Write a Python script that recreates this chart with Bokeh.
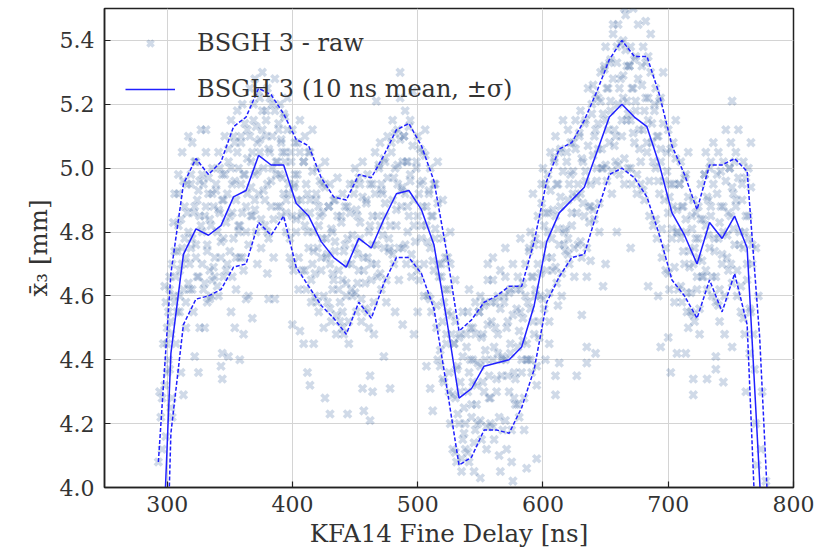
from bokeh.plotting import figure
from bokeh.models import FixedTicker, PrintfTickFormatter, Legend, LegendItem, ColumnDataSource
from bokeh.embed import file_html
from bokeh.resources import INLINE

# 10 ns bins: centre, mean and standard deviation of x3
bin_x = [293, 303, 313, 323, 333, 343, 353, 363, 373, 383,
         393, 403, 413, 423, 433, 443, 453, 463, 473, 483,
         493, 503, 513, 523, 533, 543, 553, 563, 573, 583,
         593, 603, 613, 623, 633, 643, 653, 663, 673, 683,
         693, 703, 713, 723, 733, 743, 753, 763, 773, 783]
bin_mean = [3.45, 4.42, 4.73, 4.81, 4.79, 4.82, 4.91, 4.93, 5.04, 5.01,
            5.01, 4.89, 4.85, 4.77, 4.72, 4.69, 4.78, 4.75, 4.84, 4.92,
            4.93, 4.87, 4.76, 4.53, 4.28, 4.31, 4.38, 4.39, 4.40, 4.44,
            4.57, 4.77, 4.86, 4.90, 4.94, 5.05, 5.16, 5.20, 5.16, 5.13,
            5.01, 4.86, 4.79, 4.70, 4.83, 4.78, 4.85, 4.75, 4.02, 3.30]
bin_std = [0.63, 0.25, 0.22, 0.22, 0.19, 0.20, 0.22, 0.23, 0.21, 0.22,
           0.16, 0.20, 0.22, 0.20, 0.19, 0.21, 0.20, 0.22, 0.20, 0.20,
           0.21, 0.20, 0.20, 0.21, 0.21, 0.215, 0.20, 0.21, 0.23, 0.19,
           0.20, 0.19, 0.20, 0.18, 0.21, 0.19, 0.18, 0.20, 0.19, 0.22,
           0.22, 0.21, 0.19, 0.17, 0.18, 0.23, 0.18, 0.24, 0.45, 0.36]

# raw shots
raw_x = [
    293, 294, 295, 296, 297, 298, 296, 292, 291, 294,
    299, 300, 301, 302, 302, 303, 304, 304, 305, 306, 306, 307, 303, 300,
    308, 309, 309, 310, 311, 312, 312, 313, 314, 315, 315, 316, 317, 317, 313, 310,
    318, 319, 320, 320, 321, 322, 323, 323, 324, 325, 326, 326, 327, 322, 325, 319,
    328, 328, 329, 330, 331, 332, 332, 333, 334, 335, 336, 336, 337, 330, 334, 331,
    338, 339, 340, 341, 341, 342, 343, 344, 344, 345, 346, 347, 343, 344, 349, 345,
    348, 349, 350, 351, 352, 352, 353, 354, 355, 355, 356, 357, 357, 351, 354, 358,
    358, 359, 360, 360, 361, 362, 363, 364, 364, 365, 366, 367, 361, 363, 367, 359,
    368, 369, 370, 370, 371, 372, 373, 374, 374, 375, 376, 377, 368, 372, 376, 370,
    378, 379, 380, 380, 381, 382, 383, 384, 384, 385, 386, 387, 380, 386, 381, 379,
    388, 389, 390, 390, 391, 392, 393, 394, 394, 395, 396, 397, 391, 395,
    398, 399, 400, 400, 401, 402, 403, 404, 404, 405, 406, 407, 400, 406, 409, 402,
    408, 409, 410, 410, 411, 412, 413, 414, 414, 415, 416, 417, 417, 414, 412, 416,
    418, 419, 420, 420, 421, 422, 423, 424, 424, 425, 426, 427, 426, 421,
    428, 429, 430, 430, 431, 432, 433, 434, 434, 435, 436, 437, 430, 432,
    438, 439, 440, 440, 441, 442, 443, 444, 444, 445, 446, 447, 444, 440,
    448, 449, 450, 450, 451, 452, 453, 454, 454, 455, 456, 457, 457, 456, 452,
    458, 459, 460, 460, 461, 462, 463, 464, 464, 465, 466, 467, 462, 462, 464, 467,
    468, 469, 470, 470, 471, 472, 473, 474, 474, 475, 476, 477, 473, 478, 471,
    478, 479, 480, 480, 481, 482, 483, 484, 484, 485, 486, 487, 486, 488, 482, 488,
    488, 489, 490, 490, 491, 492, 493, 494, 494, 495, 496, 497, 497, 492,
    498, 499, 500, 500, 501, 502, 503, 504, 504, 505, 506, 507, 507, 500,
    508, 509, 510, 510, 511, 512, 513, 514, 514, 515, 516, 517, 510, 512, 516,
    518, 519, 520, 520, 521, 522, 523, 524, 524, 525, 526, 527, 520, 526,
    528, 529, 530, 530, 531, 532, 533, 534, 534, 535, 536, 537, 530, 536,
    538, 539, 540, 540, 541, 542, 543, 544, 544, 545, 546, 547, 541, 546,
    548, 549, 550, 550, 551, 552, 553, 554, 554, 555, 556, 557, 550, 556,
    558, 559, 560, 560, 561, 562, 563, 564, 564, 565, 566, 567, 560, 566,
    568, 569, 570, 570, 571, 572, 573, 574, 574, 575, 576, 577, 576, 570,
    578, 579, 580, 580, 581, 582, 583, 584, 584, 585, 586, 587, 587, 582,
    588, 589, 590, 590, 591, 592, 593, 594, 594, 595, 596, 597, 595, 592,
    598, 599, 600, 600, 601, 602, 603, 604, 604, 605, 606, 607, 605, 602,
    608, 609, 610, 610, 611, 612, 613, 614, 614, 615, 616, 617, 610, 610, 613, 612,
    618, 619, 620, 620, 621, 622, 623, 624, 624, 625, 626, 627, 627, 620,
    628, 629, 630, 630, 631, 632, 633, 634, 634, 635, 636, 637, 635, 635, 631, 638,
    638, 639, 640, 640, 641, 642, 643, 644, 644, 645, 646, 647, 642, 648,
    648, 649, 650, 650, 651, 652, 653, 654, 654, 655, 656, 657, 650, 656,
    658, 659, 660, 660, 661, 662, 663, 664, 664, 665, 666, 667, 661, 665, 659, 667,
    668, 669, 670, 670, 671, 672, 673, 674, 674, 675, 676, 677, 672, 670,
    678, 679, 680, 680, 681, 682, 683, 684, 684, 685, 686, 687, 684, 682,
    688, 689, 690, 690, 691, 692, 693, 694, 694, 695, 696, 697, 694, 692,
    698, 699, 700, 700, 701, 702, 703, 704, 704, 705, 706, 707, 700, 702, 707,
    708, 709, 710, 710, 711, 712, 713, 714, 714, 715, 716, 717, 714, 716,
    718, 719, 720, 720, 721, 722, 723, 724, 724, 725, 726, 727, 720, 720,
    728, 729, 730, 730, 731, 732, 733, 734, 734, 735, 736, 737, 731, 738, 738,
    738, 739, 740, 740, 741, 742, 743, 744, 744, 745, 746, 747, 744, 741,
    748, 749, 750, 750, 751, 752, 753, 754, 754, 755, 756, 757, 751, 751,
    758, 759, 760, 760, 761, 762, 763, 764, 764, 765, 766, 767, 762, 766,
    768, 769, 770, 771, 772, 773, 774, 775, 776, 777, 770, 774,
    778, 779, 780, 782,
    298, 299, 300, 301, 302, 303, 304, 305, 306, 307,
    317, 316, 315, 314, 313, 312, 311, 310, 309, 308,
    318, 319, 320, 321, 322, 323, 324, 325, 326, 327,
    337, 336, 335, 334, 333, 332, 331, 330, 329, 328,
    338, 339, 340, 341, 342, 343, 344, 345, 346, 347,
    357, 356, 355, 354, 353, 352, 351, 350, 349, 348,
    358, 359, 360, 361, 362, 363, 364, 365, 366, 367,
    377, 376, 375, 374, 373, 372, 371, 370, 369, 368,
    378, 379, 380, 381, 382, 383, 384, 385, 386, 387,
    397, 396, 395, 394, 393, 392, 391, 390, 389, 388,
    398, 399, 400, 401, 402, 403, 404, 405, 406, 407,
    417, 416, 415, 414, 413, 412, 411, 410, 409, 408,
    418, 419, 420, 421, 422, 423, 424, 425, 426, 427,
    437, 436, 435, 434, 433, 432, 431, 430, 429, 428,
    438, 439, 440, 441, 442, 443, 444, 445, 446, 447,
    457, 456, 455, 454, 453, 452, 451, 450, 449, 448,
    458, 459, 460, 461, 462, 463, 464, 465, 466, 467,
    477, 476, 475, 474, 473, 472, 471, 470, 469, 468,
    478, 479, 480, 481, 482, 483, 484, 485, 486, 487,
    497, 496, 495, 494, 493, 492, 491, 490, 489, 488,
    498, 499, 500, 501, 502, 503, 504, 505, 506, 507,
    517, 516, 515, 514, 513, 512, 511, 510, 509, 508,
    518, 519, 520, 521, 522, 523, 524, 525, 526, 527,
    537, 536, 535, 534, 533, 532, 531, 530, 529, 528,
    538, 539, 540, 541, 542, 543, 544, 545, 546, 547,
    557, 556, 555, 554, 553, 552, 551, 550, 549, 548,
    558, 559, 560, 561, 562, 563, 564, 565, 566, 567,
    577, 576, 575, 574, 573, 572, 571, 570, 569, 568,
    578, 579, 580, 581, 582, 583, 584, 585, 586, 587,
    597, 596, 595, 594, 593, 592, 591, 590, 589, 588,
    598, 599, 600, 601, 602, 603, 604, 605, 606, 607,
    617, 616, 615, 614, 613, 612, 611, 610, 609, 608,
    618, 619, 620, 621, 622, 623, 624, 625, 626, 627,
    637, 636, 635, 634, 633, 632, 631, 630, 629, 628,
    638, 639, 640, 641, 642, 643, 644, 645, 646, 647,
    657, 656, 655, 654, 653, 652, 651, 650, 649, 648,
    658, 659, 660, 661, 662, 663, 664, 665, 666, 667,
    677, 676, 675, 674, 673, 672, 671, 670, 669, 668,
    678, 679, 680, 681, 682, 683, 684, 685, 686, 687,
    697, 696, 695, 694, 693, 692, 691, 690, 689, 688,
    698, 699, 700, 701, 702, 703, 704, 705, 706, 707,
    717, 716, 715, 714, 713, 712, 711, 710, 709, 708,
    718, 719, 720, 721, 722, 723, 724, 725, 726, 727,
    737, 736, 735, 734, 733, 732, 731, 730, 729, 728,
    738, 739, 740, 741, 742, 743, 744, 745, 746, 747,
    757, 756, 755, 754, 753, 752, 751, 750, 749, 748,
    758, 759, 760, 761, 762, 763, 764, 765, 766, 767,
]
raw_y = [
    4.08, 4.30, 4.22, 4.28, 4.45, 4.63, 4.12, 3.80, 3.60, 3.90,
    4.16, 4.36, 4.55, 4.37, 4.62, 4.48, 4.70, 4.28, 4.83, 4.58, 4.92, 4.66, 4.25, 4.50,
    4.55, 4.82, 4.98, 4.68, 4.36, 4.75, 5.05, 4.62, 4.88, 4.72, 4.50, 4.95, 4.80, 5.10, 4.29, 4.60,
    4.62, 4.95, 4.78, 5.08, 4.55, 4.88, 4.72, 5.02, 4.66, 4.93, 4.85, 4.50, 5.12, 4.41, 4.36, 4.75,
    4.70, 4.98, 4.62, 4.85, 5.05, 4.76, 4.58, 4.92, 4.68, 4.82, 5.00, 4.65, 4.88, 4.50, 4.59, 5.12,
    4.66, 4.93, 4.80, 5.05, 4.60, 4.86, 4.72, 4.98, 4.42, 4.78, 5.10, 4.68, 4.38, 4.34, 4.41, 4.90,
    4.70, 5.02, 4.85, 5.15, 4.66, 4.95, 4.78, 5.08, 4.90, 4.62, 5.18, 4.82, 5.00, 4.55, 4.50, 4.40,
    4.72, 5.10, 4.86, 5.20, 4.68, 4.98, 4.80, 5.12, 4.92, 4.60, 5.25, 4.85, 4.48, 4.59, 5.02, 4.95,
    4.85, 5.15, 4.98, 5.28, 4.80, 5.08, 4.92, 5.22, 5.05, 4.75, 5.30, 5.00, 4.53, 4.70, 5.12, 4.90,
    4.82, 5.18, 4.95, 5.25, 4.78, 5.05, 4.88, 5.20, 5.00, 4.72, 5.28, 4.98, 4.67, 4.59, 4.59, 5.10,
    4.88, 5.12, 4.98, 5.20, 4.85, 5.05, 4.92, 5.16, 5.02, 4.80, 5.22, 4.95, 5.08, 4.90,
    4.72, 5.05, 4.85, 5.12, 4.68, 4.95, 4.80, 5.08, 4.90, 4.62, 5.15, 4.85, 4.51, 4.49, 4.45, 4.98,
    4.68, 5.02, 4.82, 5.10, 4.62, 4.92, 4.75, 5.05, 4.86, 4.58, 5.12, 4.80, 4.45, 4.32, 4.36, 4.70,
    4.60, 4.92, 4.75, 5.00, 4.55, 4.85, 4.68, 4.95, 4.78, 4.50, 5.02, 4.72, 4.28, 4.88,
    4.58, 4.88, 4.70, 4.95, 4.52, 4.80, 4.65, 4.90, 4.74, 4.48, 4.97, 4.68, 4.23, 4.62,
    4.52, 4.85, 4.65, 4.92, 4.48, 4.76, 4.60, 4.88, 4.70, 4.45, 4.95, 4.62, 4.23, 4.55,
    4.60, 4.92, 4.75, 5.00, 4.55, 4.85, 4.68, 4.95, 4.78, 4.52, 5.02, 4.72, 4.24, 4.31, 4.64,
    4.56, 4.90, 4.72, 4.98, 4.50, 4.82, 4.65, 4.95, 4.76, 4.48, 5.05, 4.70, 4.21, 4.35, 4.30, 5.21,
    4.66, 5.00, 4.82, 5.08, 4.62, 4.92, 4.75, 5.02, 4.85, 4.58, 5.10, 4.78, 4.41, 4.31, 4.95,
    4.75, 5.08, 4.90, 5.15, 4.70, 5.00, 4.82, 5.12, 4.95, 4.65, 5.22, 4.88, 5.30, 4.51, 4.55, 5.02,
    4.75, 5.10, 4.92, 5.18, 4.70, 5.02, 4.85, 5.15, 4.96, 4.66, 5.24, 4.90, 4.48, 4.80,
    4.70, 5.02, 4.85, 5.10, 4.65, 4.95, 4.78, 5.05, 4.88, 4.60, 5.12, 4.82, 4.38, 4.55,
    4.60, 4.92, 4.75, 5.00, 4.55, 4.85, 4.68, 4.95, 4.78, 4.50, 5.02, 4.70, 4.31, 4.24, 4.40,
    4.38, 4.70, 4.52, 4.78, 4.33, 4.62, 4.45, 4.72, 4.55, 4.30, 4.80, 4.48, 4.90, 4.20,
    4.12, 4.45, 4.28, 4.52, 4.08, 4.38, 4.20, 4.48, 4.30, 4.05, 4.55, 4.25, 4.65, 4.15,
    4.12, 4.48, 4.30, 4.55, 4.08, 4.40, 4.22, 4.50, 4.33, 4.05, 4.58, 4.26, 4.62, 4.18,
    4.20, 4.55, 4.38, 4.60, 4.15, 4.48, 4.30, 4.58, 4.40, 4.12, 4.65, 4.35, 4.03, 4.70,
    4.20, 4.58, 4.40, 4.65, 4.15, 4.50, 4.30, 4.60, 4.42, 4.10, 4.68, 4.35, 4.72, 4.05,
    4.18, 4.60, 4.40, 4.66, 4.12, 4.52, 4.30, 4.62, 4.42, 4.08, 4.70, 4.36, 4.02, 4.75,
    4.26, 4.62, 4.44, 4.66, 4.22, 4.55, 4.36, 4.64, 4.46, 4.18, 4.70, 4.40, 4.06, 4.78,
    4.40, 4.75, 4.56, 4.80, 4.36, 4.66, 4.48, 4.78, 4.60, 4.32, 4.85, 4.52, 4.09, 4.92,
    4.60, 4.95, 4.76, 5.00, 4.56, 4.86, 4.68, 4.98, 4.80, 4.52, 5.05, 4.72, 4.45, 4.40,
    4.68, 5.02, 4.85, 5.10, 4.64, 4.95, 4.76, 5.06, 4.88, 4.60, 5.15, 4.80, 4.35, 4.29, 4.39, 4.57,
    4.74, 5.05, 4.90, 5.12, 4.70, 4.98, 4.82, 5.08, 4.92, 4.66, 5.15, 4.86, 4.35, 4.78,
    4.76, 5.10, 4.92, 5.18, 4.72, 5.02, 4.85, 5.15, 4.96, 4.66, 5.25, 4.88, 4.39, 4.44, 4.54, 4.71,
    4.88, 5.20, 5.04, 5.26, 4.84, 5.12, 4.96, 5.22, 5.06, 4.80, 5.30, 5.00, 4.42, 4.63,
    5.00, 5.32, 5.15, 5.38, 4.96, 5.25, 5.08, 5.34, 5.18, 4.92, 5.42, 5.12, 4.70, 5.45,
    5.02, 5.38, 5.20, 5.45, 4.98, 5.28, 5.10, 5.40, 5.22, 4.95, 5.48, 5.15, 5.52, 5.50, 4.80, 5.32,
    5.00, 5.32, 5.15, 5.38, 4.95, 5.25, 5.08, 5.35, 5.18, 4.92, 5.45, 5.12, 5.50, 4.75,
    4.95, 5.32, 5.12, 5.38, 4.90, 5.22, 5.05, 5.35, 5.15, 4.85, 5.42, 5.08, 4.63, 5.46,
    4.82, 5.20, 5.00, 5.25, 4.78, 5.10, 4.92, 5.22, 5.02, 4.72, 5.30, 4.96, 4.44, 4.60,
    4.68, 5.05, 4.86, 5.12, 4.62, 4.95, 4.78, 5.08, 4.88, 4.58, 5.15, 4.80, 4.47, 4.36, 4.42,
    4.62, 4.95, 4.78, 5.02, 4.58, 4.88, 4.70, 4.98, 4.80, 4.55, 5.05, 4.74, 4.42, 4.50,
    4.55, 4.85, 4.70, 4.90, 4.52, 4.78, 4.62, 4.88, 4.72, 4.48, 4.95, 4.66, 4.34, 4.29,
    4.66, 4.98, 4.82, 5.05, 4.62, 4.90, 4.75, 5.02, 4.85, 4.60, 5.08, 4.78, 4.34, 4.41, 4.37,
    4.58, 4.98, 4.78, 5.05, 4.52, 4.88, 4.70, 5.02, 4.80, 4.48, 5.12, 4.72, 4.33, 4.62,
    4.68, 5.00, 4.85, 5.08, 4.64, 4.92, 4.76, 5.05, 4.88, 4.60, 5.12, 4.80, 5.21, 4.44,
    4.55, 4.95, 4.75, 5.02, 4.48, 4.85, 4.65, 5.00, 4.78, 4.42, 5.08, 4.70, 4.30, 4.55,
    4.48, 4.37, 4.20, 4.07, 4.60, 3.80, 3.50, 4.30, 3.90, 3.60, 4.75, 4.12,
    4.02, 3.60, 3.20, 3.40,
    4.32, 4.58, 4.45, 4.40, 4.66, 4.52, 4.22, 4.60, 4.74, 4.45,
    4.64, 4.86, 4.58, 4.78, 4.96, 4.70, 4.84, 4.55, 4.92, 4.74,
    4.70, 4.98, 4.62, 4.86, 5.02, 4.76, 4.90, 4.66, 4.96, 4.82,
    4.69, 4.92, 4.60, 4.84, 4.97, 4.74, 4.88, 4.64, 4.95, 4.80,
    4.72, 4.95, 4.63, 4.87, 5.00, 4.77, 4.90, 4.66, 4.98, 4.83,
    4.80, 5.05, 4.72, 4.96, 5.10, 4.86, 5.00, 4.74, 5.06, 4.92,
    4.82, 5.08, 4.72, 4.98, 5.14, 4.88, 5.03, 4.76, 5.10, 4.94,
    4.93, 5.18, 4.84, 5.09, 5.24, 4.99, 5.13, 4.87, 5.20, 5.05,
    4.90, 5.15, 4.80, 5.06, 5.22, 4.96, 5.10, 4.84, 5.18, 5.02,
    4.92, 5.12, 4.86, 5.05, 5.17, 4.97, 5.09, 4.88, 5.14, 5.02,
    4.78, 5.02, 4.70, 4.94, 5.08, 4.84, 4.98, 4.72, 5.05, 4.90,
    4.74, 4.99, 4.65, 4.90, 5.05, 4.80, 4.95, 4.68, 5.02, 4.86,
    4.67, 4.90, 4.58, 4.82, 4.96, 4.72, 4.86, 4.60, 4.94, 4.78,
    4.62, 4.85, 4.54, 4.77, 4.90, 4.67, 4.81, 4.56, 4.88, 4.73,
    4.58, 4.83, 4.50, 4.74, 4.88, 4.64, 4.78, 4.52, 4.86, 4.70,
    4.68, 4.91, 4.59, 4.83, 4.97, 4.73, 4.87, 4.61, 4.95, 4.79,
    4.64, 4.89, 4.55, 4.80, 4.95, 4.70, 4.85, 4.58, 4.92, 4.76,
    4.74, 4.97, 4.65, 4.89, 5.03, 4.79, 4.93, 4.67, 5.01, 4.85,
    4.82, 5.05, 4.73, 4.97, 5.11, 4.87, 5.01, 4.75, 5.09, 4.93,
    4.82, 5.07, 4.73, 4.98, 5.13, 4.88, 5.02, 4.76, 5.10, 4.94,
    4.77, 5.00, 4.68, 4.92, 5.06, 4.82, 4.96, 4.70, 5.04, 4.88,
    4.66, 4.89, 4.57, 4.81, 4.95, 4.71, 4.85, 4.59, 4.93, 4.77,
    4.43, 4.66, 4.34, 4.58, 4.72, 4.48, 4.62, 4.36, 4.70, 4.54,
    4.17, 4.41, 4.09, 4.33, 4.47, 4.23, 4.37, 4.11, 4.45, 4.29,
    4.20, 4.44, 4.11, 4.36, 4.50, 4.26, 4.40, 4.14, 4.48, 4.32,
    4.28, 4.51, 4.19, 4.43, 4.57, 4.33, 4.47, 4.21, 4.55, 4.39,
    4.28, 4.52, 4.19, 4.44, 4.58, 4.34, 4.48, 4.22, 4.56, 4.40,
    4.28, 4.54, 4.18, 4.45, 4.61, 4.35, 4.50, 4.21, 4.58, 4.41,
    4.34, 4.56, 4.26, 4.49, 4.62, 4.40, 4.53, 4.28, 4.60, 4.45,
    4.47, 4.70, 4.38, 4.62, 4.76, 4.52, 4.66, 4.40, 4.74, 4.58,
    4.67, 4.89, 4.59, 4.82, 4.95, 4.72, 4.86, 4.61, 4.93, 4.78,
    4.76, 4.99, 4.67, 4.91, 5.05, 4.81, 4.95, 4.69, 5.03, 4.87,
    4.81, 5.02, 4.73, 4.95, 5.08, 4.86, 4.99, 4.75, 5.06, 4.91,
    4.83, 5.07, 4.75, 4.99, 5.14, 4.89, 5.03, 4.77, 5.11, 4.95,
    4.95, 5.17, 4.87, 5.10, 5.23, 5.00, 5.14, 4.89, 5.21, 5.06,
    5.07, 5.28, 4.99, 5.21, 5.33, 5.12, 5.25, 5.01, 5.31, 5.17,
    5.10, 5.33, 5.01, 5.25, 5.39, 5.15, 5.29, 5.03, 5.37, 5.21,
    5.06, 5.28, 4.98, 5.21, 5.34, 5.11, 5.25, 5.00, 5.32, 5.17,
    5.02, 5.26, 4.93, 5.18, 5.33, 5.08, 5.22, 4.96, 5.30, 5.14,
    4.90, 5.14, 4.81, 5.06, 5.21, 4.96, 5.10, 4.84, 5.18, 5.02,
    4.75, 4.99, 4.67, 4.91, 5.06, 4.81, 4.95, 4.69, 5.03, 4.87,
    4.69, 4.91, 4.61, 4.84, 4.97, 4.74, 4.88, 4.63, 4.95, 4.80,
    4.61, 4.81, 4.54, 4.75, 4.86, 4.66, 4.78, 4.56, 4.84, 4.71,
    4.74, 4.95, 4.66, 4.88, 5.00, 4.79, 4.91, 4.68, 4.98, 4.84,
    4.66, 4.92, 4.57, 4.83, 4.99, 4.73, 4.88, 4.60, 4.96, 4.79,
    4.76, 4.97, 4.68, 4.90, 5.02, 4.81, 4.94, 4.70, 5.00, 4.86,
    4.63, 4.90, 4.53, 4.80, 4.97, 4.70, 4.85, 4.56, 4.94, 4.76,
]

n = min(len(raw_x), len(raw_y))
raw_src = ColumnDataSource(dict(x=raw_x[:n], y=raw_y[:n]))
upper = [m + s for m, s in zip(bin_mean, bin_std)]
lower = [m - s for m, s in zip(bin_mean, bin_std)]
band_src = ColumnDataSource(dict(x=bin_x, mean=bin_mean, upper=upper, lower=lower))

FONT = "DejaVu Serif"
TXT = "#333333"
LINE = "#2020ff"

p = figure(width=825, height=555, x_range=(250, 800), y_range=(4.0, 5.5),
           output_backend="svg", toolbar_location=None,
           min_border_left=104, min_border_right=32, min_border_top=8, min_border_bottom=68)

raw_r = p.scatter("x", "y", source=raw_src, marker="x", size=10, line_width=3.5,
                  line_color="#34609c", line_alpha=0.23)
mean_r = p.line("x", "mean", source=band_src, line_color=LINE, line_width=1.5)
p.line("x", "upper", source=band_src, line_color=LINE, line_width=1.5, line_dash="4 2")
p.line("x", "lower", source=band_src, line_color=LINE, line_width=1.5, line_dash="4 2")

p.xaxis.ticker = FixedTicker(ticks=[300, 400, 500, 600, 700, 800])
p.yaxis.ticker = FixedTicker(ticks=[4.0, 4.2, 4.4, 4.6, 4.8, 5.0, 5.2, 5.4])
p.yaxis.formatter = PrintfTickFormatter(format="%.1f")

for ax in (p.xaxis[0], p.yaxis[0]):
    ax.major_tick_in = 6
    ax.major_tick_out = 0
    ax.minor_tick_line_color = None
    ax.axis_line_color = "#222222"
    ax.axis_line_width = 1.5
    ax.major_tick_line_color = "#222222"
    ax.major_tick_line_width = 1.2
    ax.major_label_text_font = FONT
    ax.major_label_text_font_size = "22px"
    ax.major_label_text_color = TXT
    ax.axis_label_text_font = FONT
    ax.axis_label_text_font_size = "24.5px"
    ax.axis_label_text_font_style = "normal"
    ax.axis_label_text_color = TXT

p.xaxis.axis_label = "KFA14 Fine Delay [ns]"
p.yaxis.axis_label = "x\u0304\u2083 [mm]"
p.xaxis.major_label_standoff = 8
p.yaxis.major_label_standoff = 10
p.xaxis.axis_label_standoff = 4
p.yaxis.axis_label_standoff = 4

p.grid.grid_line_color = "#d4d4d4"
p.grid.grid_line_width = 1
p.outline_line_color = "#222222"
p.outline_line_width = 1.5
p.background_fill_color = "white"
p.border_fill_color = "white"

legend = Legend(items=[LegendItem(label="BSGH 3 - raw", renderers=[raw_r]),
                       LegendItem(label="BSGH 3 (10 ns mean, \u00b1\u03c3)", renderers=[mean_r])],
                location="top_left")
legend.background_fill_alpha = 0
legend.border_line_alpha = 0
legend.margin = 0
legend.padding = 21
legend.glyph_width = 50
legend.glyph_height = 22
legend.label_height = 22
legend.spacing = 18
legend.label_standoff = 22
legend.label_text_font = FONT
legend.label_text_font_size = "24px"
legend.label_text_color = TXT
legend.label_text_baseline = "middle"
p.add_layout(legend)

open("out.html", "w").write(file_html(p, INLINE))
